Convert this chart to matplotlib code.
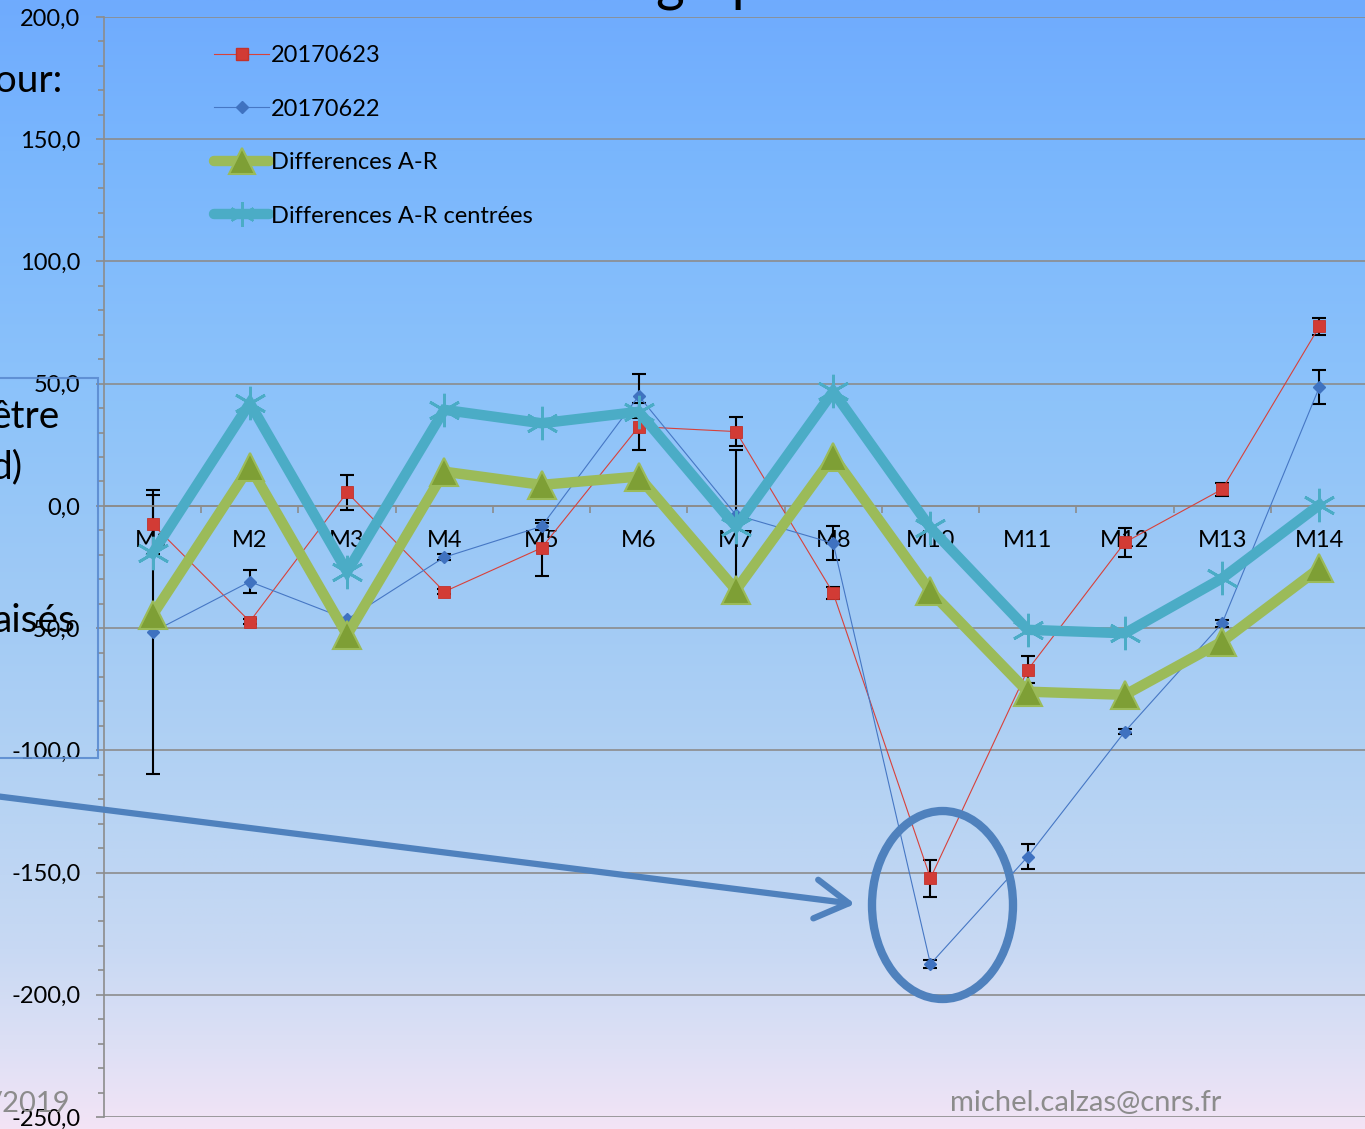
import matplotlib
matplotlib.use("Agg")
import matplotlib.pyplot as plt
import matplotlib.patches as mpatches
from matplotlib.lines import Line2D
from matplotlib.ticker import FuncFormatter, MultipleLocator, FixedLocator
import numpy as np

plt.rcParams["font.family"] = ["Lato", "DejaVu Sans"]

W, H = 1365, 1129

CATEGORIES = ["M1", "M2", "M3", "M4", "M5", "M6", "M7", "M8",
              "M10", "M11", "M12", "M13", "M14"]

# 20170623 (red squares) and its error
SERIES_0623 = [-7.5, -47.3, 5.5, -35.1, -17.2, 32.4, 30.4, -35.7,
               -152.3, -67.1, -14.9, 6.8, 73.4]
ERR_0623 = [12.0, 1.0, 7.3, 1.0, 11.5, 9.5, 6.0, 2.5, 7.5, 5.5, 6.0, 2.7, 3.3]

# 20170622 (blue diamonds) and its error
SERIES_0622 = [-51.6, -31.0, -46.4, -21.0, -8.4, 45.0, -3.7, -15.3,
               -187.4, -143.5, -92.3, -48.0, 48.6]
ERR_0622 = [58.0, 4.7, 0.5, 1.2, 1.5, 9.0, 26.5, 7.0, 1.5, 5.0, 1.0, 1.5, 7.0]

DIFF_AR = [-44.6, 16.1, -52.8, 14.0, 8.6, 12.0, -34.4, 20.2,
           -35.0, -76.0, -77.3, -55.5, -25.5]
DIFF_AR_CENTERED = [-19.4, 42.0, -26.9, 39.3, 33.8, 38.5, -8.5, 46.8,
                    -9.0, -50.7, -52.1, -29.6, 0.4]

RED = "#D8413A"
BLUE = "#4677C4"
GREEN = "#9BBB59"
GREEN_DARK = "#7E9F35"
TEAL = "#4BACC6"
GRID = "#8C8C8C"
SHAPE_BLUE = "#4F81BD"


def fx(px):
    return px / W


def fy(py):
    return 1 - py / H


fig = plt.figure(figsize=(W / 100, H / 100), dpi=100)

# gradient slide background
bg = fig.add_axes([0, 0, 1, 1], zorder=-10)
stops_y = np.array([0, 150, 400, 600, 800, 950, 1050, 1129]) / H
stops_c = np.array([
    [111, 171, 254], [121, 182, 253], [141, 195, 250], [160, 202, 245],
    [182, 211, 243], [200, 217, 243], [222, 224, 245], [243, 228, 246],
]) / 255.0
yy = np.linspace(0, 1, 600)
grad = np.stack([np.interp(yy, stops_y, stops_c[:, k]) for k in range(3)], axis=-1)
bg.imshow(grad[:, None, :].repeat(4, axis=1), aspect="auto", extent=[0, 1, 1, 0])
bg.set_xlim(0, 1)
bg.set_ylim(1, 0)
bg.axis("off")

ax = fig.add_axes([fx(104), fy(1117), 1264 / W, 1100 / H])
ax.set_facecolor("none")

x = np.arange(len(CATEGORIES))

# error bars first, then thin series, then the thick difference lines
ax.errorbar(x, SERIES_0623, yerr=ERR_0623, fmt="none", ecolor="black",
            elinewidth=1.5, capsize=5, capthick=1.5, zorder=2.5)
ax.errorbar(x, SERIES_0622, yerr=ERR_0622, fmt="none", ecolor="black",
            elinewidth=1.5, capsize=5, capthick=1.5, zorder=2.5)

ax.plot(x, SERIES_0623, color=RED, lw=0.8, marker="s", ms=8.5,
        mfc="#D23B35", mec="#C2322C", mew=0.6, zorder=3)
ax.plot(x, SERIES_0622, color=BLUE, lw=0.8, marker="D", ms=6,
        mfc="#3F72C0", mec="#3F72C0", zorder=3)

ax.plot(x, DIFF_AR, color=GREEN, lw=7.5, solid_joinstyle="miter",
        marker="^", ms=20, mfc=GREEN_DARK, mec=GREEN, mew=1.5, zorder=4)
ax.plot(x, DIFF_AR_CENTERED, color=TEAL, lw=7.5, solid_joinstyle="miter",
        marker=(6, 2, 0), ms=24, mec=TEAL, mew=2, zorder=4)

ax.set_xlim(-0.5, len(CATEGORIES) - 0.5)
ax.set_ylim(-250, 200)

# axes styling
for side in ("top", "right"):
    ax.spines[side].set_visible(False)
ax.spines["left"].set_color(GRID)
ax.spines["left"].set_linewidth(1.2)
ax.spines["bottom"].set_position(("data", 0))
ax.spines["bottom"].set_color(GRID)
ax.spines["bottom"].set_linewidth(1.2)

ax.yaxis.set_major_locator(MultipleLocator(50))
ax.yaxis.set_minor_locator(MultipleLocator(10))
ax.yaxis.set_major_formatter(FuncFormatter(lambda v, _: f"{v:.1f}".replace(".", ",")))
ax.tick_params(axis="y", which="major", direction="out", length=6, width=1.2,
               color=GRID, labelsize=17, pad=11)
ax.tick_params(axis="y", which="minor", direction="out", length=4.5, width=1.2,
               color=GRID)
ax.grid(axis="y", which="major", color=GRID, lw=1.2, zorder=0)
ax.set_axisbelow(True)

ax.xaxis.set_major_locator(FixedLocator(x))
ax.set_xticklabels(CATEGORIES)
ax.xaxis.set_minor_locator(FixedLocator(np.arange(0.5, len(CATEGORIES) - 1, 1.0)))
ax.tick_params(axis="x", which="major", length=0, labelsize=17, pad=17.5)
ax.tick_params(axis="x", which="minor", direction="out", length=5, width=1.2,
               color=GRID)

# legend
handles = [
    Line2D([], [], color=RED, lw=0.8, marker="s", ms=8.5, mfc="#D23B35", mec="#C2322C"),
    Line2D([], [], color=BLUE, lw=0.8, marker="D", ms=6, mfc="#3F72C0", mec="#3F72C0"),
    Line2D([], [], color=GREEN, lw=7.5, solid_capstyle="round", marker="^", ms=19,
           mfc=GREEN_DARK, mec=GREEN, mew=1.5),
    Line2D([], [], color=TEAL, lw=7.5, solid_capstyle="round", marker=(6, 2, 0),
           ms=18, mec=TEAL, mew=1.5),
]
labels = ["20170623", "20170622", "Differences A-R", "Differences A-R centrées"]
ax.legend(handles, labels, loc="upper left", bbox_to_anchor=(fx(214), fy(45)),
          bbox_transform=fig.transFigure, frameon=False, fontsize=17,
          handlelength=2.35, handletextpad=0.08, labelspacing=1.38,
          borderpad=0, borderaxespad=0, numpoints=1)

# pieces of the slide around the chart
fig.text(fx(655), fy(-1), "grap", fontsize=40, va="baseline", ha="left", color="black")
for txt, px, py in [("pour:", 62, 92), ("être", 60, 428), ("d)", 23, 478), ("aisés", 76, 632)]:
    fig.text(fx(px), fy(py), txt, fontsize=28, ha="right", va="baseline", color="black")
fig.text(fx(70), fy(1112), "/2019", fontsize=21, ha="right", va="baseline", color="#8C8C8C")
fig.text(fx(950), fy(1111), "michel.calzas@cnrs.fr", fontsize=21, ha="left",
         va="baseline", color="#8C8C8C")

fig.add_artist(mpatches.Rectangle((fx(-5), fy(758)), (98 + 5) / W, 380 / H,
                                  transform=fig.transFigure, fill=False,
                                  ec="#5B8BD0", lw=1.5, alpha=0.9))
fig.add_artist(mpatches.FancyArrowPatch((fx(-5), fy(796)), (fx(855), fy(904)),
                                        transform=fig.transFigure,
                                        arrowstyle="->,head_length=1.2,head_width=0.7",
                                        mutation_scale=20, color=SHAPE_BLUE, lw=4.5,
                                        shrinkA=0, shrinkB=0))
fig.add_artist(mpatches.Ellipse((fx(942.5), fy(905)), 141 / W, 188 / H,
                                transform=fig.transFigure, fill=False,
                                ec=SHAPE_BLUE, lw=6))

fig.savefig("out.png", dpi=100)
